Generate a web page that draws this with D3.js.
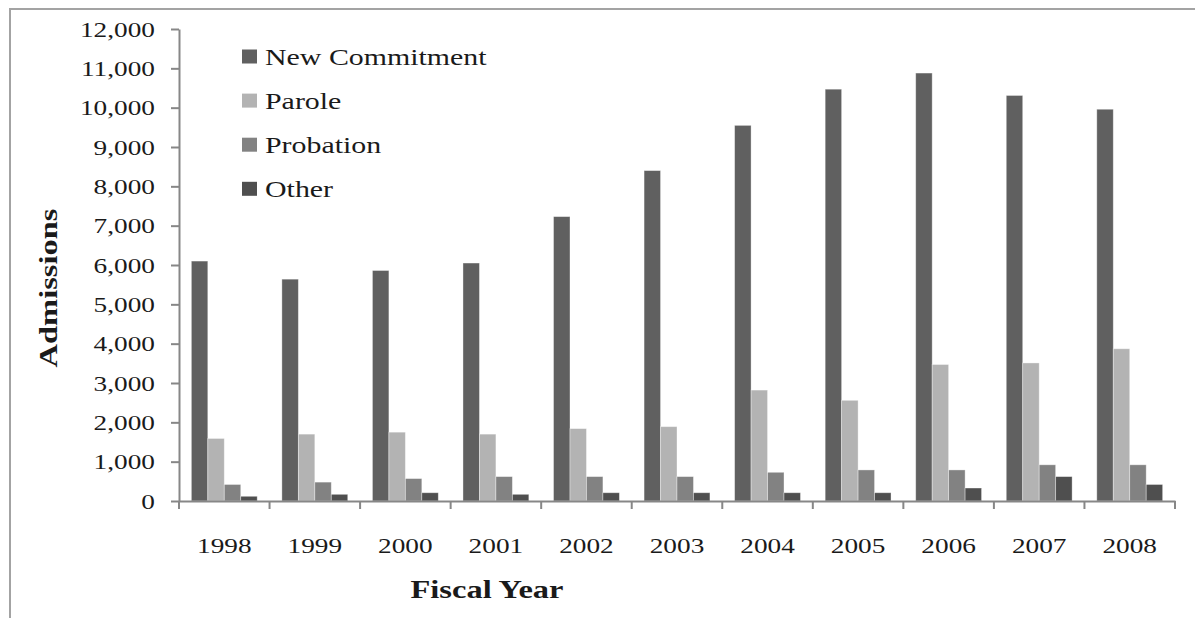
<!DOCTYPE html>
<html><head><meta charset="utf-8">
<script src="https://cdn.jsdelivr.net/npm/d3@7"></script>
<style>
html,body{margin:0;padding:0;background:#fff;}
svg{display:block;}
text{font-family:"Liberation Serif","Times New Roman",serif;fill:#1a1a1a;}
</style></head>
<body>
<svg id="chart" width="1195" height="618"></svg>
<script>
const years = ["1998","1999","2000","2001","2002","2003","2004","2005","2006","2007","2008"];
const seriesNames = ["New Commitment","Parole","Probation","Other"];
const newCommitment = [6100,5640,5860,6050,7230,8400,9550,10470,10880,10310,9960];
const parole = [1590,1700,1750,1700,1840,1890,2820,2560,3470,3510,3870];
const probation = [420,480,570,620,620,620,730,790,790,920,920];
const other = [120,170,210,170,210,210,210,210,330,620,420];
const yTicks = [0,1000,2000,3000,4000,5000,6000,7000,8000,9000,10000,11000,12000];
const colors = ["#606060","#b3b3b3","#828282","#4f4f4f"];

const seriesValues = [newCommitment, parole, probation, other];
const SX = 1.3; // horizontal text stretch seen in the reference

const svg = d3.select("#chart");
const pLeft = 179, pRight = 1175, pTop = 29, pBottom = 501;

// outer frame
svg.append("rect").attr("x",10).attr("y",9).attr("width",1300).attr("height",800)
  .attr("fill","none").attr("stroke","#a3a3a3").attr("stroke-width",2);

const x = d3.scaleBand().domain(years).range([pLeft,pRight]).padding(0);
const bw = x.bandwidth();
const x1 = d3.scaleBand().domain(seriesNames)
  .range([bw*0.75/5.5, bw - bw*0.75/5.5]).padding(0);
const y = d3.scaleLinear().domain([0,12000]).range([pBottom, pTop]);

// bars
const groups = svg.append("g").selectAll("g").data(years).join("g")
  .attr("transform", d => `translate(${x(d)},0)`);
groups.selectAll("rect")
  .data((yr,i) => seriesNames.map((s,k) => ({s, v: seriesValues[k][i], k})))
  .join("rect")
  .attr("x", d => x1(d.s))
  .attr("width", x1.bandwidth())
  .attr("y", d => y(d.v))
  .attr("height", d => y(0) - y(d.v))
  .attr("fill", d => colors[d.k])
  .attr("stroke","rgba(255,255,255,0.45)").attr("stroke-width",0.8);

// y axis
const yAxis = svg.append("g").attr("transform",`translate(${pLeft},0)`)
  .call(d3.axisLeft(y).tickValues(yTicks).tickSize(8).tickSizeOuter(0).tickFormat(d3.format(",")));
yAxis.select(".domain").attr("stroke","#878787").attr("stroke-width",2);
yAxis.selectAll(".tick line").attr("stroke","#878787").attr("stroke-width",2);
yAxis.selectAll(".tick text")
  .attr("x", -24/SX).attr("dy","0.34em")
  .attr("transform",`scale(${SX},1)`)
  .style("font-size","21px").style("font-family","'Liberation Serif','Times New Roman',serif")
  .attr("fill","#1a1a1a");

// x axis
const xAxis = svg.append("g").attr("transform",`translate(0,${pBottom})`)
  .call(d3.axisBottom(x).tickSize(0).tickSizeOuter(0));
xAxis.select(".domain").attr("stroke","#878787").attr("stroke-width",2);
xAxis.selectAll(".tick text")
  .attr("y", 52).attr("dy","0")
  .attr("transform",`scale(${SX},1)`)
  .style("font-size","21px").style("font-family","'Liberation Serif','Times New Roman',serif")
  .attr("fill","#1a1a1a");
// ticks at category boundaries
const bounds = years.map(d => x(d)).concat([x.range()[1]]);
svg.append("g").selectAll("line").data(bounds).join("line")
  .attr("x1", d=>d).attr("x2", d=>d).attr("y1", pBottom).attr("y2", pBottom+8)
  .attr("stroke","#878787").attr("stroke-width",2);

// axis titles
svg.append("text").attr("transform",`translate(487,598) scale(${SX},1)`)
  .attr("text-anchor","middle").style("font-size","25px").style("font-weight","bold")
  .text("Fiscal Year");
svg.append("text").attr("transform",`translate(57,288) rotate(-90) scale(${SX},1)`)
  .attr("text-anchor","middle").style("font-size","25px").style("font-weight","bold")
  .text("Admissions");

// legend
const leg = svg.append("g").selectAll("g").data(seriesNames).join("g")
  .attr("transform",(d,i)=>`translate(242,${56.5 + i*44.1})`);
leg.append("rect").attr("x",0).attr("y",-7).attr("width",15).attr("height",14)
  .attr("fill",(d,i)=>colors[i]);
leg.append("text").attr("transform",`translate(23,8) scale(${SX},1)`)
  .style("font-size","23px").text(d=>d);
</script>
</body></html>
